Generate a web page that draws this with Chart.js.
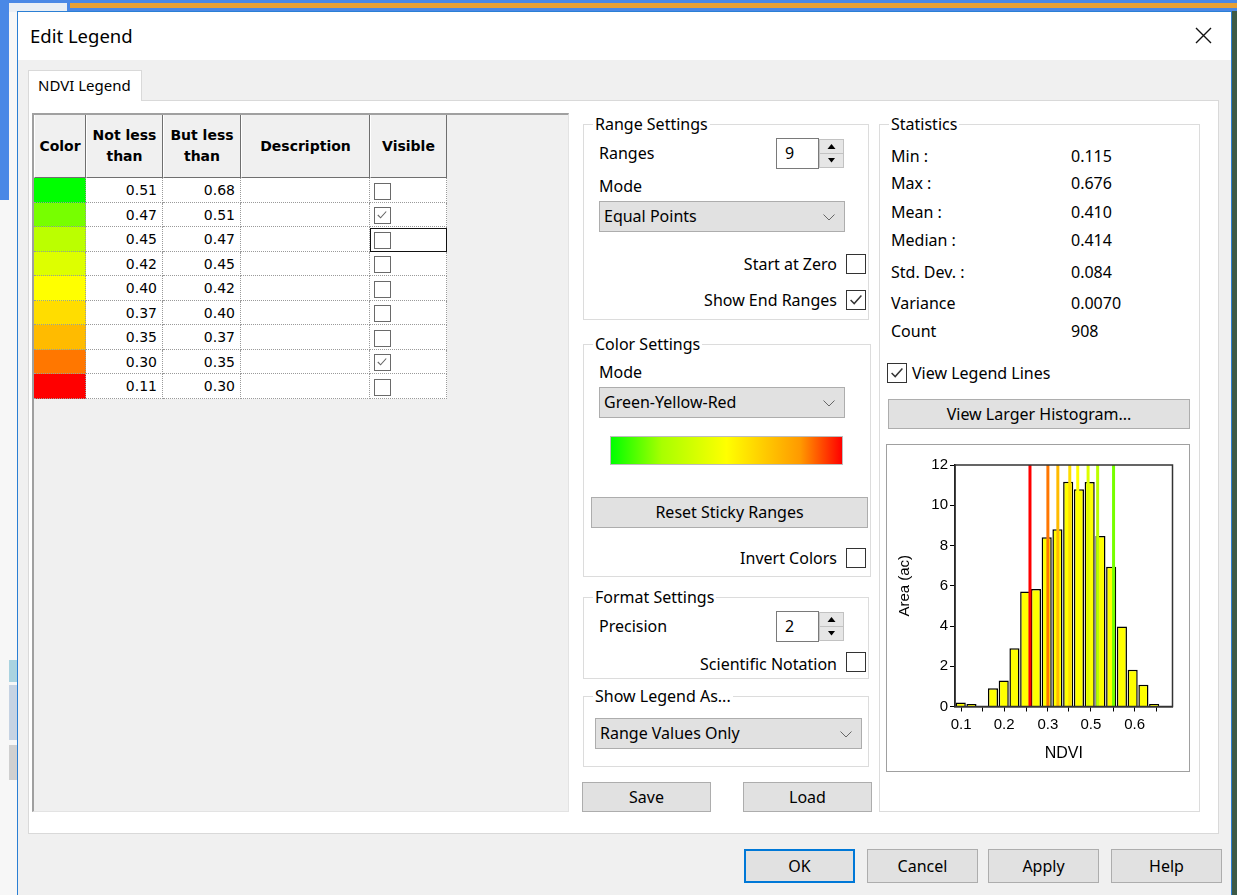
<!DOCTYPE html>
<html>
<head>
<meta charset="utf-8">
<title>Edit Legend</title>
<script src="https://cdn.jsdelivr.net/npm/chart.js@4.4.1/dist/chart.umd.min.js"></script>
<style>
  body { margin: 0; width: 1237px; height: 895px; position: relative; overflow: hidden;
         background: #f7f7f7; font-family: "Noto Sans", sans-serif; font-size: 16px; color: #000; }
  #ui div { position: absolute; box-sizing: border-box; white-space: nowrap; }
  .tbl { font-family: "DejaVu Sans", sans-serif; font-size: 14px; }
</style>
</head>
<body>
<div id="ui"></div>
<div id="histo" style="position:absolute;left:887px;top:445px;width:302px;height:326px;z-index:5">
  <canvas id="grafico-histograma"></canvas>
</div>
<script>
// histogram bins (NDVI bin centres) and area per bin
var binCenters = [0.126, 0.153, 0.180, 0.207, 0.234, 0.261, 0.288, 0.315, 0.342, 0.369,
                  0.396, 0.423, 0.450, 0.477, 0.504, 0.531, 0.558, 0.585, 0.612];
var areaValues = [0.2, 0.13, 0, 0.91, 1.29, 2.9, 5.71, 5.84, 8.41, 8.81,
                  11.17, 10.8, 11.15, 8.47, 6.95, 3.97, 1.82, 1.08, 0.13];
// legend range breaks drawn as lines
var breakValues = [0.30, 0.345, 0.37, 0.40, 0.42, 0.446, 0.47, 0.51];
var xTickValues = [0.127, 0.181, 0.235, 0.290, 0.345, 0.398, 0.453, 0.509, 0.563, 0.618];
var xTickLabels = ['0.1', '', '0.2', '', '0.3', '', '0.5', '', '0.6', ''];

// legend table
var rangeLow = ['0.51', '0.47', '0.45', '0.42', '0.40', '0.37', '0.35', '0.30', '0.11'];
var rangeHigh = ['0.68', '0.51', '0.47', '0.45', '0.42', '0.40', '0.37', '0.35', '0.30'];
var rangeVisible = [false, true, false, false, false, false, false, true, false];
var rangeColors = ['#00ff00', '#77ff00', '#bbff00', '#ddff00', '#ffff00', '#ffdd00', '#ffbb00', '#ff7700', '#ff0000'];
var breakColors = ['#ff0000', '#ff7700', '#ffbb00', '#ffdd00', '#ffff00', '#ddff00', '#bbff00', '#77ff00'];

// statistics
var statNames = ['Min :', 'Max :', 'Mean :', 'Median :', 'Std. Dev. :', 'Variance', 'Count'];
var statValues = ['0.115', '0.676', '0.410', '0.414', '0.084', '0.0070', '908'];

var ui = document.getElementById('ui');

function box(x, y, w, h, css, text) {
    var d = document.createElement('div');
    var s = 'left:' + x + 'px;top:' + y + 'px;';
    if (w != null) s += 'width:' + w + 'px;';
    if (h != null) s += 'height:' + h + 'px;';
    d.style.cssText = s + (css || '');
    if (text != null) d.textContent = text;
    ui.appendChild(d);
    return d;
}
function label(x, cy, text, css) {
    return box(x, cy - 10, null, 20, 'line-height:20px;' + (css || ''), text);
}
function rlabel(xr, cy, text, css) {
    var d = label(0, cy, text, css);
    d.style.left = 'auto';
    d.style.right = (1237 - xr) + 'px';
    return d;
}
function checkMark(d, w, color) {
    d.innerHTML = '<svg width="' + w + '" height="' + w + '" viewBox="0 0 20 20" style="position:absolute;left:0;top:0">' +
        '<polyline points="4,10 8,14 16,5" fill="none" stroke="' + color + '" stroke-width="1.6"/></svg>';
}
function checkbox(x, y, checked) {
    var d = box(x, y, 20, 20, 'background:#fff;border:1px solid #333;');
    if (checked) checkMark(d, 18, '#333');
}
function button(x, y, w, h, text, css) {
    return box(x, y, w, h, 'background:#e1e1e1;border:1px solid #adadad;text-align:center;line-height:' + (h - 2) + 'px;' + (css || ''), text);
}
function select(x, y, w, h, text) {
    var d = box(x, y, w, h, 'background:#e1e1e1;border:1px solid #adadad;padding-left:4px;line-height:' + (h - 2) + 'px;', text);
    d.innerHTML += '<svg width="12" height="7" style="position:absolute;right:9px;top:' + (h / 2 - 4) + 'px">' +
        '<polyline points="0.5,0.5 6,6 11.5,0.5" fill="none" stroke="#666" stroke-width="1"/></svg>';
}
function spinner(x, y, value) {
    box(x, y, 43, 31, 'background:#fff;border:1px solid #7a7a7a;padding-left:8px;line-height:29px;', value);
    var up = box(x + 43, y + 1, 25, 15, 'background:#e6e6e6;border:1px solid #c2c2c2;');
    var dn = box(x + 43, y + 15, 25, 15, 'background:#e6e6e6;border:1px solid #c2c2c2;');
    up.innerHTML = '<svg width="23" height="13" style="position:absolute;left:0;top:0"><polygon points="7.5,9 11.5,4 15.5,9" fill="#000"/></svg>';
    dn.innerHTML = '<svg width="23" height="13" style="position:absolute;left:0;top:0"><polygon points="8,4 15,4 11.5,8.5" fill="#000"/></svg>';
}
function group(x1, y1, x2, y2, title) {
    box(x1, y1, x2 - x1, y2 - y1, 'border:1px solid #dcdcdc;');
    label(x1 + 10, y1, title, 'background:#fff;padding:0 2px;');
}

// desktop behind the dialog
box(0, 0, 1237, 11, 'background:#4a88e6;');
box(70, 3, 1167, 5, 'background:#e9a035;');
box(9, 3, 58, 9, 'background:#e9eef5;');
box(0, 0, 9, 200, 'background:#4a88e6;');
box(1231, 11, 6, 884, 'background:#3d5a46;');
box(9, 660, 8, 22, 'background:#a9d3e0;');
box(9, 685, 8, 55, 'background:#c6d3e3;');
box(9, 745, 8, 35, 'background:#d0d0d0;');

// dialog frame
box(17, 11, 1215, 885, 'background:#f0f0f0;border:1px solid #2b7fd4;');
box(18, 12, 1213, 48, 'background:#fff;');
label(30, 36, 'Edit Legend', 'font-size:18.5px;line-height:20px;');
box(1195, 27, 17, 17, '').innerHTML =
    '<svg width="17" height="17"><path d="M1,1 L16,16 M16,1 L1,16" stroke="#111" stroke-width="1.4"/></svg>';

// tab page
box(28, 100, 1191, 734, 'background:#fff;border:1px solid #d9d9d9;');
box(28, 70, 114, 31, 'background:#fff;border:1px solid #d9d9d9;border-bottom:none;');
label(38, 85, 'NDVI Legend', 'font-size:15px;');

// legend grid
box(32, 113, 537, 699, 'background:#f0f0f0;border-left:2px solid #a0a0a0;border-top:2px solid #a0a0a0;border-right:1px solid #e3e3e3;border-bottom:1px solid #e3e3e3;');
var colX = [34, 86, 163, 241, 370, 447];
var heads = ['Color', 'Not less<br>than', 'But less<br>than', 'Description', 'Visible'];
for (var c = 0; c < 5; c++) {
    var h = box(colX[c], 115, colX[c + 1] - colX[c], 63,
        'background:#f0f0f0;border-right:1px solid #6f6f6f;border-bottom:1px solid #6f6f6f;border-left:1px solid #fff;' +
        'display:flex;align-items:center;justify-content:center;text-align:center;line-height:21px;font-weight:bold;', null);
    h.className = 'tbl';
    h.innerHTML = heads[c];
}
var rowTop = 178, rowH = 24.5;
for (var r = 0; r < rangeLow.length; r++) {
    var y = rowTop + r * rowH;
    var dotted = 'border-right:1px dotted #9a9a9a;border-bottom:1px dotted #9a9a9a;';
    box(colX[0], y, colX[1] - colX[0], rowH, 'background:' + rangeColors[r] + ';' + dotted);
    var a = box(colX[1], y, colX[2] - colX[1], rowH, 'background:#fff;text-align:right;padding-right:5px;line-height:' + rowH + 'px;' + dotted, rangeLow[r]);
    a.className = 'tbl';
    var b = box(colX[2], y, colX[3] - colX[2], rowH, 'background:#fff;text-align:right;padding-right:5px;line-height:' + rowH + 'px;' + dotted, rangeHigh[r]);
    b.className = 'tbl';
    box(colX[3], y, colX[4] - colX[3], rowH, 'background:#fff;' + dotted);
    box(colX[4], y, colX[5] - colX[4], rowH, 'background:#fff;' + dotted);
    var cb = box(374, y + 4.5, 17, 17, 'background:#fff;border:1.5px solid #6a6a6a;');
    if (rangeVisible[r]) checkMark(cb, 14, '#666');
}
box(370, 228, 77, 23.5, 'border:1.5px solid #111;');

// range settings
group(583, 124, 869, 320, 'Range Settings');
label(599, 153, 'Ranges');
spinner(776, 138, '9');
label(599, 186, 'Mode');
select(599, 201, 246, 31, 'Equal Points');
rlabel(837, 264, 'Start at Zero');
checkbox(846, 254, false);
rlabel(837, 300, 'Show End Ranges');
checkbox(846, 290, true);

// color settings
group(583, 344, 871, 577, 'Color Settings');
label(599, 372, 'Mode');
select(599, 387, 246, 31, 'Green-Yellow-Red');
box(610, 436, 233, 29, 'border:1px solid #bdbdbd;background:linear-gradient(to right,#00ff00 0%,#a8ff00 22%,#ffff00 50%,#ffcc00 66%,#ff9900 82%,#ff0000 100%);');
button(591, 497, 277, 31, 'Reset Sticky Ranges');
rlabel(837, 558, 'Invert Colors');
checkbox(846, 548, false);

// format settings
group(583, 597, 869, 679, 'Format Settings');
label(599, 626, 'Precision');
spinner(776, 611, '2');
rlabel(837, 664, 'Scientific Notation');
checkbox(846, 652, false);

group(583, 696, 869, 767, 'Show Legend As...');
select(595, 718, 267, 31, 'Range Values Only');

button(582, 782, 129, 30, 'Save');
button(743, 782, 129, 30, 'Load');

// statistics
group(879, 124, 1200, 812, 'Statistics');
var statY = [155.5, 183, 211.5, 240, 271.5, 302.5, 330.5];
for (var i = 0; i < statNames.length; i++) {
    label(891, statY[i], statNames[i]);
    label(1071, statY[i], statValues[i]);
}
checkbox(887, 363, true);
label(912, 373, 'View Legend Lines');
button(888, 399, 302, 30, 'View Larger Histogram...');
box(886, 444, 304, 328, 'background:#fff;border:1px solid #a0a0a0;');

// dialog buttons
button(744, 849, 111, 34, 'OK', 'border:2px solid #0078d7;line-height:30px;');
button(867, 849, 111, 34, 'Cancel');
button(988, 849, 111, 34, 'Apply');
button(1111, 849, 111, 34, 'Help');

// histogram
var frame = {
    id: 'frame',
    afterDraw: function (chart) {
        var a = chart.chartArea, g = chart.ctx;
        g.save();
        g.strokeStyle = '#333';
        g.lineWidth = 1.5;
        g.strokeRect(a.left, a.top, a.right - a.left, a.bottom - a.top);
        g.restore();
    }
};

var datasets = [{
    type: 'bar',
    data: binCenters.map(function (x, i) { return { x: x, y: areaValues[i] }; }),
    backgroundColor: '#ffff00',
    borderColor: '#000',
    borderWidth: 1.5,
    barPercentage: 0.94,
    categoryPercentage: 1,
    order: 2
}];
breakValues.forEach(function (v, i) {
    datasets.push({
        type: 'line',
        data: [{ x: v, y: 0 }, { x: v, y: 12 }],
        borderColor: breakColors[i],
        borderWidth: 3,
        pointRadius: 0,
        order: 1
    });
});

var ctx = document.getElementById('grafico-histograma');
var histo = new Chart(ctx, {
    type: 'bar',
    data: { datasets: datasets },
    plugins: [frame],
    options: {
        responsive: true,
        maintainAspectRatio: false,
        animation: false,
        layout: { padding: { top: 20, right: 16.5, left: 0, bottom: 0 } },
        plugins: { legend: { display: false }, tooltip: { enabled: false } },
        scales: {
            x: {
                type: 'linear',
                min: 0.1116,
                max: 0.6581,
                offset: false,
                afterFit: function (s) { s.height = 64.5; },
                afterBuildTicks: function (s) {
                    s.ticks = xTickValues.map(function (v) { return { value: v }; });
                },
                grid: { display: true, drawOnChartArea: false, drawTicks: true, tickLength: 5, color: '#000', offset: false },
                border: { display: true, color: '#000', width: 1.5 },
                ticks: {
                    autoSkip: false, maxRotation: 0, padding: 4.5, color: '#000',
                    font: { family: 'Liberation Sans', size: 15 },
                    callback: function (v, i) { return xTickLabels[i]; }
                },
                title: { display: true, text: 'NDVI', color: '#000', font: { family: 'Liberation Sans', size: 16 }, padding: { top: 0, bottom: 7.4 } }
            },
            y: {
                min: 0,
                max: 12,
                afterFit: function (s) { s.width = 68; },
                grid: { display: true, drawOnChartArea: false, drawTicks: true, tickLength: 5, color: '#000' },
                border: { display: true, color: '#000', width: 1.5 },
                ticks: { stepSize: 2, padding: 2, color: '#000', font: { family: 'Liberation Sans', size: 15 } },
                title: { display: true, text: 'Area (ac)', color: '#000', font: { family: 'Liberation Sans', size: 15 }, padding: { top: 9, bottom: 0 } }
            }
        }
    }
});
</script>
</body>
</html>
